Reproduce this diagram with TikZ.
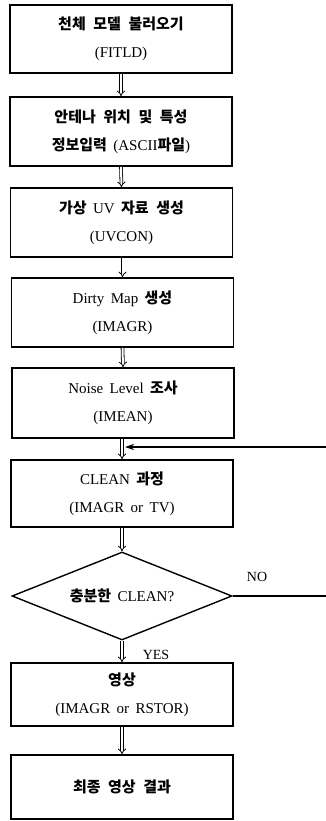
\documentclass[tikz,border=0pt]{standalone}
\usepackage{fontspec}
\setmainfont[WordSpace=1.7]{Liberation Serif}
\newfontfamily\krfont[WordSpace=2.2]{Noto Sans CJK KR}
\newcommand{\kr}{\krfont\bfseries}
\usetikzlibrary{shapes.geometric,arrows.meta}
\begin{document}
\begin{tikzpicture}[x=1pt,y=-1pt,
  stepbox/.style={draw,line width=1.6pt,minimum width=222pt,inner sep=0pt,align=center,
    font=\fontsize{15}{28}\selectfont},
  decision/.style={draw,diamond,line width=1.4pt,minimum width=220pt,minimum height=88pt,
    inner sep=0pt,aspect=2.5,font=\fontsize{15}{28}\selectfont},
  flow/.style={double,double distance=2pt,line width=0.8pt,-{Implies[length=4pt]}},
  back/.style={line width=1.3pt,-{Stealth[length=9pt,width=6pt]}},
  lbl/.style={font=\fontsize{14}{16}\selectfont,inner sep=0pt}]
\useasboundingbox (0,0) rectangle (326,821);
\node[stepbox,minimum height=68pt] (b1) at (121,39) {{\kr 천체 모델 불러오기}\\(FITLD)};
\node[stepbox,minimum height=69pt] (b2) at (121,131.5) {{\kr 안테나 위치 및 특성}\\{\kr 정보입력} (ASCII{\kr 파일})};
\node[stepbox,minimum height=69pt] (b3) at (121.5,222.5) {{\kr 가상} UV {\kr 자료 생성}\\(UVCON)};
\node[stepbox,minimum height=69pt] (b4) at (122.5,312.5) {Dirty Map {\kr 생성}\\(IMAGR)};
\node[stepbox,minimum height=70pt] (b5) at (123,403) {Noise Level {\kr 조사}\\(IMEAN)};
\node[stepbox,minimum height=67pt] (b6) at (122,493.5) {CLEAN {\kr 과정}\\(IMAGR or TV)};
\node[decision] (d) at (122,596) {{\kr 충분한} CLEAN?};
\node[stepbox,minimum height=63pt] (b7) at (122,694.5) {{\kr 영상}\\(IMAGR or RSTOR)};
\node[stepbox,minimum height=64pt] (b8) at (122,787) {{\kr 최종 영상 결과}};
\draw[flow] (b1.south) -- (b2.north);
\draw[flow] (b2.south) -- (b3.north);
\draw[flow] (b3.south -| b4.north) -- (b4.north);
\draw[flow] (b4.south) -- (b5.north);
\draw[flow] (b5.south -| b6.north) -- (b6.north);
\draw[flow] (b6.south) -- (d.north);
\draw[flow] (d.south) -- (b7.north);
\draw[flow] (b7.south) -- (b8.north);
\coordinate (c1) at (328,596);
\coordinate (c2) at (328,447);
\coordinate (c3) at (125,447);
\draw[back] (d.east) -- (c1) -- (c2) -- (c3);
\node[lbl] (no) at (257,577) {NO};
\node[lbl] (yes) at (156,655) {YES};
\end{tikzpicture}
\end{document}
